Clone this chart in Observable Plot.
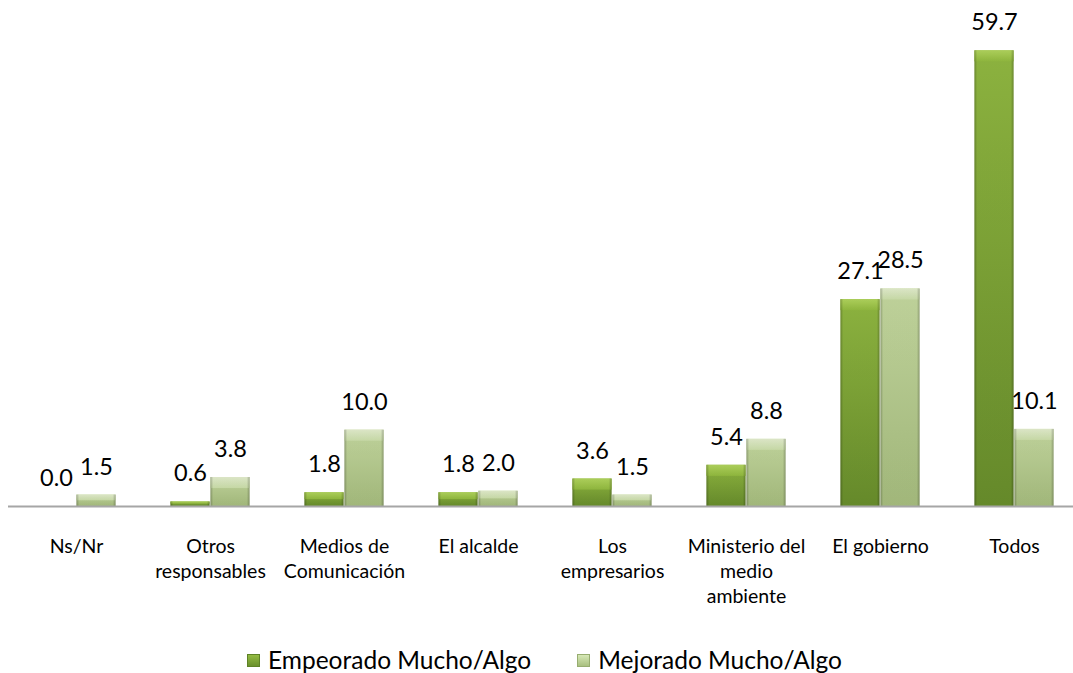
<!DOCTYPE html>
<html>
<head>
<meta charset="utf-8">
<script src="https://cdn.jsdelivr.net/npm/d3@7"></script>
<script src="https://cdn.jsdelivr.net/npm/@observablehq/plot@0.6"></script>
<style>
  html, body { margin: 0; padding: 0; background: #fff; }
  #wrap { position: relative; width: 1073px; height: 673px; font-family: Lato, sans-serif; color: #000; }
  #legend { position: absolute; left: 247px; top: 645px; display: flex; align-items: center; font-size: 24.5px; line-height: 30px; white-space: nowrap; }
  .item { display: flex; align-items: center; }
  .sw { width: 13px; height: 13px; margin-right: 8px; box-sizing: border-box; }
</style>
</head>
<body>
<div id="wrap"><div id="chart"></div><div id="legend"></div></div>
<script>
const categories = ["Ns/Nr", "Otros\nresponsables", "Medios de\nComunicación", "El alcalde", "Los\nempresarios", "Ministerio del\nmedio\nambiente", "El gobierno", "Todos"];
const seriesNames = ["Empeorado Mucho/Algo", "Mejorado Mucho/Algo"];
const empeorado = [0.0, 0.6, 1.8, 1.8, 3.6, 5.4, 27.1, 59.7];
const mejorado = [1.5, 3.8, 10.0, 2.0, 1.5, 8.8, 28.5, 10.1];

const rowsE = categories.map((c, i) => ({cat: c, series: seriesNames[0], v: empeorado[i]}));
const rowsM = categories.map((c, i) => ({cat: c, series: seriesNames[1], v: mejorado[i]}));

const bw = 40;
const band = (1084.4 - 5.6) / categories.length;
const half = band / 2;
const inL = half - bw, inR = half;

function bevel(d) { return d.v - Math.min(1.45, d.v / 2); }

const chart = Plot.plot({
  width: 1073,
  height: 640,
  marginLeft: 8,
  marginRight: 0,
  marginTop: 48,
  marginBottom: 134,
  style: {fontFamily: "Lato, sans-serif", color: "#000", background: "transparent"},
  x: {domain: categories, range: [5.6, 1084.4], padding: 0},
  y: {domain: [0, 60], axis: null},
  marks: [
    Plot.barY(rowsE, {x: "cat", y: "v", fill: "url(#gDark)", insetLeft: inL, insetRight: inR}),
    Plot.barY(rowsM, {x: "cat", y: "v", fill: "url(#gLight)", insetLeft: inR, insetRight: inL}),
    Plot.barY(rowsE, {x: "cat", y1: bevel, y2: "v", fill: "url(#gDarkTop)", insetLeft: inL, insetRight: inR}),
    Plot.barY(rowsM, {x: "cat", y1: bevel, y2: "v", fill: "url(#gLightTop)", insetLeft: inR, insetRight: inL}),
    Plot.barY(rowsE, {x: "cat", y: "v", fill: "url(#gEdge)", insetLeft: inL, insetRight: inR}),
    Plot.barY(rowsM, {x: "cat", y: "v", fill: "url(#gEdge)", insetLeft: inR, insetRight: inL}),
    Plot.ruleY([0], {stroke: "#a6a6a6", strokeWidth: 2}),
    Plot.text(rowsE, {x: "cat", y: "v", text: d => d.v.toFixed(1), dx: -bw / 2, dy: -28, fontSize: 23.5, fill: "#000"}),
    Plot.text(rowsM, {x: "cat", y: "v", text: d => d.v.toFixed(1), dx: bw / 2, dy: -28, fontSize: 23.5, fill: "#000"}),
    Plot.axisX({tickSize: 0, tickPadding: 29, fontSize: 19.5, lineHeight: 1.28, fill: "#000", label: null})
  ]
});

chart.insertAdjacentHTML("afterbegin", `
<defs>
  <linearGradient id="gDark" x1="0" y1="0" x2="0" y2="1">
    <stop offset="0" stop-color="#93bb42"/>
    <stop offset="1" stop-color="#6a902c"/>
  </linearGradient>
  <linearGradient id="gLight" x1="0" y1="0" x2="0" y2="1">
    <stop offset="0" stop-color="#c8dca2"/>
    <stop offset="1" stop-color="#a9c080"/>
  </linearGradient>
  <linearGradient id="gDarkTop" x1="0" y1="0" x2="0" y2="1">
    <stop offset="0" stop-color="#b4d85e"/>
    <stop offset="1" stop-color="#95be40"/>
  </linearGradient>
  <linearGradient id="gLightTop" x1="0" y1="0" x2="0" y2="1">
    <stop offset="0" stop-color="#e6f1d0"/>
    <stop offset="1" stop-color="#cfe2ad"/>
  </linearGradient>
  <linearGradient id="gEdge" x1="0" y1="0" x2="1" y2="0">
    <stop offset="0" stop-color="#000" stop-opacity="0.28"/>
    <stop offset="0.07" stop-color="#000" stop-opacity="0.05"/>
    <stop offset="0.93" stop-color="#000" stop-opacity="0.05"/>
    <stop offset="1" stop-color="#000" stop-opacity="0.28"/>
  </linearGradient>
</defs>`);

document.getElementById("chart").appendChild(chart);

const legend = document.getElementById("legend");
const swatches = ["linear-gradient(#93bb42,#6a902c)", "linear-gradient(#d6e8b6,#a9c080)"];
seriesNames.forEach((name, i) => {
  const item = document.createElement("div");
  item.className = "item";
  if (i > 0) item.style.marginLeft = "46px";
  const sw = document.createElement("div");
  sw.className = "sw";
  sw.style.background = swatches[i];
  sw.style.border = "1px solid " + (i === 0 ? "#5e8226" : "#97ad70");
  item.appendChild(sw);
  const t = document.createElement("span");
  t.textContent = name;
  item.appendChild(t);
  legend.appendChild(item);
});
</script>
</body>
</html>
